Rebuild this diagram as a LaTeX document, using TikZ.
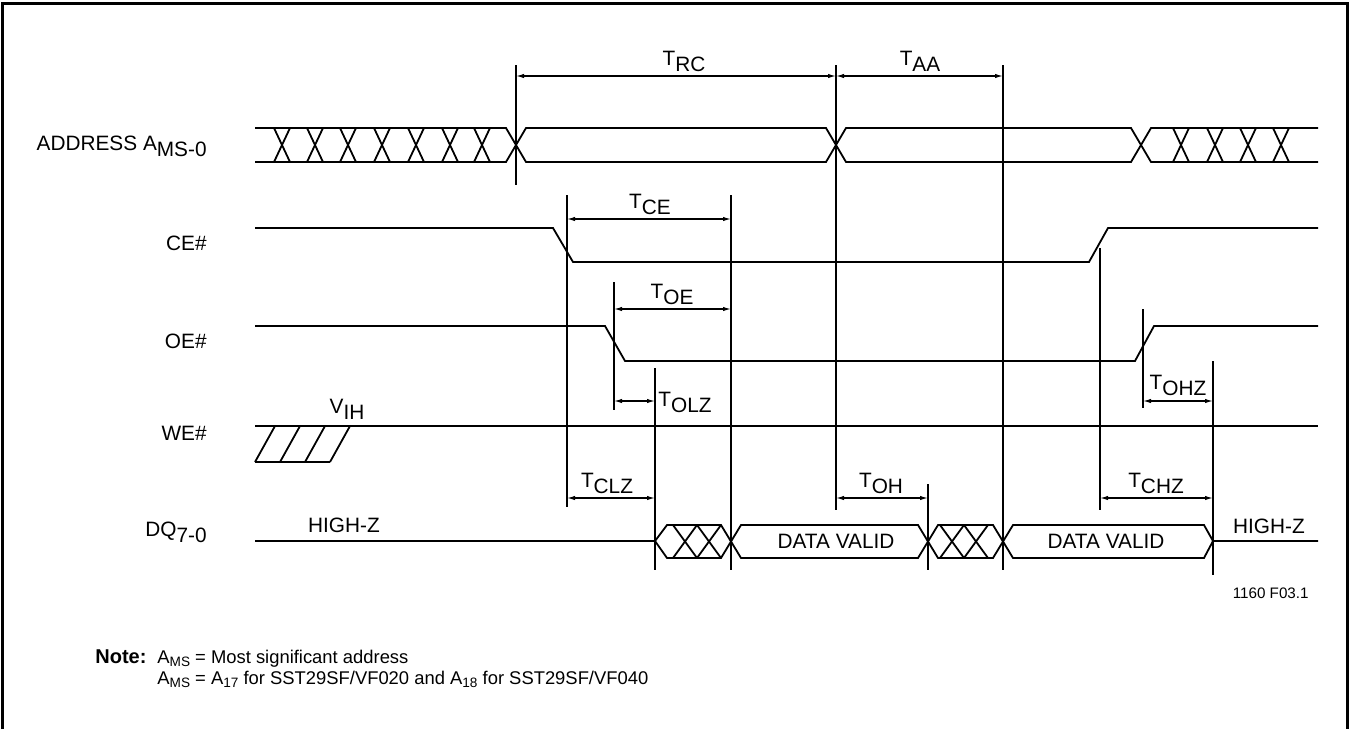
\documentclass[tikz,border=0pt]{standalone}
\usepackage{fontspec}
\setmainfont{Liberation Sans}
\usetikzlibrary{arrows.meta}
\newcommand{\lw}[1]{\raisebox{-3pt}{#1}}
\newcommand{\nsub}[1]{\raisebox{-1.6pt}{\fontsize{6.8}{7}\selectfont #1}}
\tikzset{
   sig/.style={line width=0.9pt},
   guide/.style={line width=0.6pt},
   dim/.style={line width=0.6pt, {Latex[length=4pt,width=2.2pt]}-{Latex[length=4pt,width=2.2pt]}},
   lbl/.style={font=\fontsize{10.4}{12}\selectfont, inner sep=0pt},
   note/.style={font=\fontsize{9.2}{11}\selectfont, inner sep=0pt, anchor=base west},
}
\begin{document}
\begin{tikzpicture}[x=0.5pt,y=-0.5pt]
   \useasboundingbox (0,0) rectangle (1350,729);
   \draw[line width=1.5pt] (2,729) -- (2,3) -- (1347,3) -- (1347,729);

   % signal names
   \node[lbl, anchor=base east] (addr) at (207,150) {ADDRESS A\lw{MS-0}};
   \node[lbl, anchor=base east] (ce) at (207,250) {CE\#};
   \node[lbl, anchor=base east] (oe) at (207,348) {OE\#};
   \node[lbl, anchor=base east] (we) at (207,440) {WE\#};
   \node[lbl, anchor=base east] (dq) at (207,536) {DQ\lw{7-0}};

   % address bus
   \draw[sig] (255,128) -- (506,128) -- (526,162) -- (826,162) -- (846,128) -- (1131,128) -- (1151,162) -- (1318,162);
   \draw[sig] (255,162) -- (506,162) -- (526,128) -- (826,128) -- (846,162) -- (1131,162) -- (1151,128) -- (1318,128);
   \foreach \x in {282,315,348,382,416,450,482,1181,1215,1248,1281}
      \draw[sig] (\x-8,128) -- (\x+8,162) (\x-8,162) -- (\x+8,128);

   % CE#, OE#, WE#
   \draw[sig] (255,228) -- (553,228) -- (573,262) -- (1089,262) -- (1108,228) -- (1318,228);
   \draw[sig] (255,326) -- (605,326) -- (625,361) -- (1135,361) -- (1154,326) -- (1318,326);
   \draw[sig] (255,426) -- (1318,426);
   \draw[sig] (255,462) -- (330,462);
   \foreach \x in {255,280,305,330}
      \draw[sig] (\x,462) -- (\x+20,426);
   \node[lbl, anchor=base] (vih) at (347,413) {V\lw{IH}};

   % data bus
   \draw[sig] (255,541) -- (655,541) -- (667,525) -- (721,525) -- (741,558) -- (918,558) -- (938,525) -- (993,525) -- (1013,558) -- (1204,558) -- (1213,541) -- (1318,541);
   \draw[sig] (655,541) -- (667,558) -- (721,558) -- (741,525) -- (918,525) -- (938,558) -- (993,558) -- (1013,525) -- (1204,525) -- (1213,541);
   \foreach \x in {685,709,952,976}
      \draw[sig] (\x-12,525) -- (\x+12,558) (\x-12,558) -- (\x+12,525);
   \node[lbl] (dv1) at (836,541) {DATA VALID};
   \node[lbl] (dv2) at (1106,541) {DATA VALID};
   \node[lbl, anchor=base] (hz1) at (344,532) {HIGH-Z};
   \node[lbl, anchor=base] (hz2) at (1269,533) {HIGH-Z};

   % timing guides
   \draw[guide] (516,65) -- (516,185);
   \draw[guide] (836,65) -- (836,510);
   \draw[guide] (1003,65) -- (1003,570);
   \draw[guide] (567,195) -- (567,507);
   \draw[guide] (731,195) -- (731,570);
   \draw[guide] (614,282) -- (614,410);
   \draw[guide] (655,368) -- (655,570);
   \draw[guide] (928,484) -- (928,570);
   \draw[guide] (1100,248) -- (1100,510);
   \draw[guide] (1143,309) -- (1143,408);
   \draw[guide] (1213,361) -- (1213,575);

   % timing parameters
   \draw[dim] (516,76) -- (836,76);
   \node[lbl, anchor=base] (trc) at (684,65) {T\lw{RC}};
   \draw[dim] (836,76) -- (1003,76);
   \node[lbl, anchor=base] (taa) at (920,65) {T\lw{AA}};
   \draw[dim] (567,219) -- (731,219);
   \node[lbl, anchor=base] (tce) at (650,208) {T\lw{CE}};
   \draw[dim] (614,309) -- (731,309);
   \node[lbl, anchor=base] (toe) at (672,298) {T\lw{OE}};
   \draw[dim] (614,401) -- (655,401);
   \node[lbl, anchor=base west] (tolz) at (658,406) {T\lw{OLZ}};
   \draw[dim] (1143,401) -- (1213,401);
   \node[lbl, anchor=base] (tohz) at (1178,389) {T\lw{OHZ}};
   \draw[dim] (567,498) -- (655,498);
   \node[lbl, anchor=base] (tclz) at (607,487) {T\lw{CLZ}};
   \draw[dim] (836,498) -- (928,498);
   \node[lbl, anchor=base] (toh) at (881,487) {T\lw{OH}};
   \draw[dim] (1100,498) -- (1213,498);
   \node[lbl, anchor=base] (tchz) at (1156,487) {T\lw{CHZ}};

   \node[anchor=base east, inner sep=0pt, font=\fontsize{7.6}{9}\selectfont] (fig) at (1309,598) {1160 F03.1};

   % note
   \node[note, font=\fontsize{10}{11}\selectfont\bfseries] (nt) at (95,663) {Note:};
   \node[note] (nt1) at (157,663) {A\nsub{MS} = Most significant address};
   \node[note] (nt2) at (157,684) {A\nsub{MS} = A\nsub{17} for SST29SF/VF020 and A\nsub{18} for SST29SF/VF040};
\end{tikzpicture}
\end{document}
